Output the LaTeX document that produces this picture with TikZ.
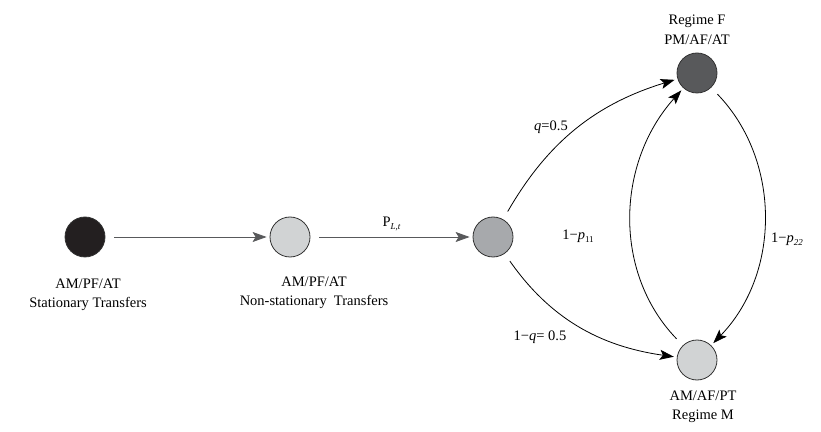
\documentclass[tikz,border=0pt]{standalone}
\usepackage{fontspec}
\setmainfont{Liberation Serif}
\usetikzlibrary{arrows.meta,positioning}
\definecolor{negro}{RGB}{35,31,32}
\definecolor{claro}{RGB}{209,211,212}
\definecolor{medio}{RGB}{167,169,172}
\definecolor{oscuro}{RGB}{88,89,91}
\definecolor{borde}{RGB}{50,50,50}
\tikzset{
  est/.style={circle, draw=borde, line width=0.8pt, minimum size=40pt, inner sep=0pt},
  et/.style={align=center, font=\fontsize{14.5}{19.5}\selectfont},
  fl/.style={-{Stealth[length=14pt, width=10pt, inset=3pt]}, line width=0.8pt, shorten <=9pt, shorten >=3pt},
}
\newcommand{\sub}[1]{\raisebox{-3pt}{\fontsize{9}{9}\selectfont #1}}

\begin{document}
\begin{tikzpicture}[x=1pt, y=1pt]
  \useasboundingbox (0,0) rectangle (821,431);
  \node[est, fill=negro]  (s1) at (85,194)  {};
  \node[est, fill=claro]  (s2) at (290,194) {};
  \node[est, fill=medio]  (s3) at (493,194) {};
  \node[est, fill=oscuro] (rf) at (697,358) {};
  \node[est, fill=claro]  (rm) at (697,71)  {};
  \node[et] (l1) at (88,136)  {AM/PF/AT\\Stationary Transfers};
  \node[et] (l2) at (314,138) {AM/PF/AT\\Non-stationary\ \ Transfers};
  \node[et] (lf) at (697,401) {Regime F\\PM/AF/AT};
  \node[et] (lm) at (703,24)  {AM/AF/PT\\Regime M};
  \draw[fl, draw=oscuro] (s1) -- (s2);
  \draw[fl, draw=oscuro] (s2) -- node[et, above=2pt] (pl) {P\sub{\textit{L,t}}} (s3);
  \draw[fl] (s3) to[out=60, in=197] (rf);
  \draw[fl] (s3) to[out=-55, in=172] (rm);
  \draw[fl] (rm) to[out=134, in=228] (rf);
  \draw[fl] (rf) to[out=-46, in=46] (rm);
  \node[et] (eq)  at (551,304) {\textit{q}=0.5};
  \node[et] (eq2) at (540,94)  {1−\textit{q}= 0.5};
  \node[et] (p11) at (578,195) {1−\textit{p}\sub{11}};
  \node[et] (p22) at (787,192) {1−\textit{p}\sub{\textit{22}}};
\end{tikzpicture}
\end{document}
